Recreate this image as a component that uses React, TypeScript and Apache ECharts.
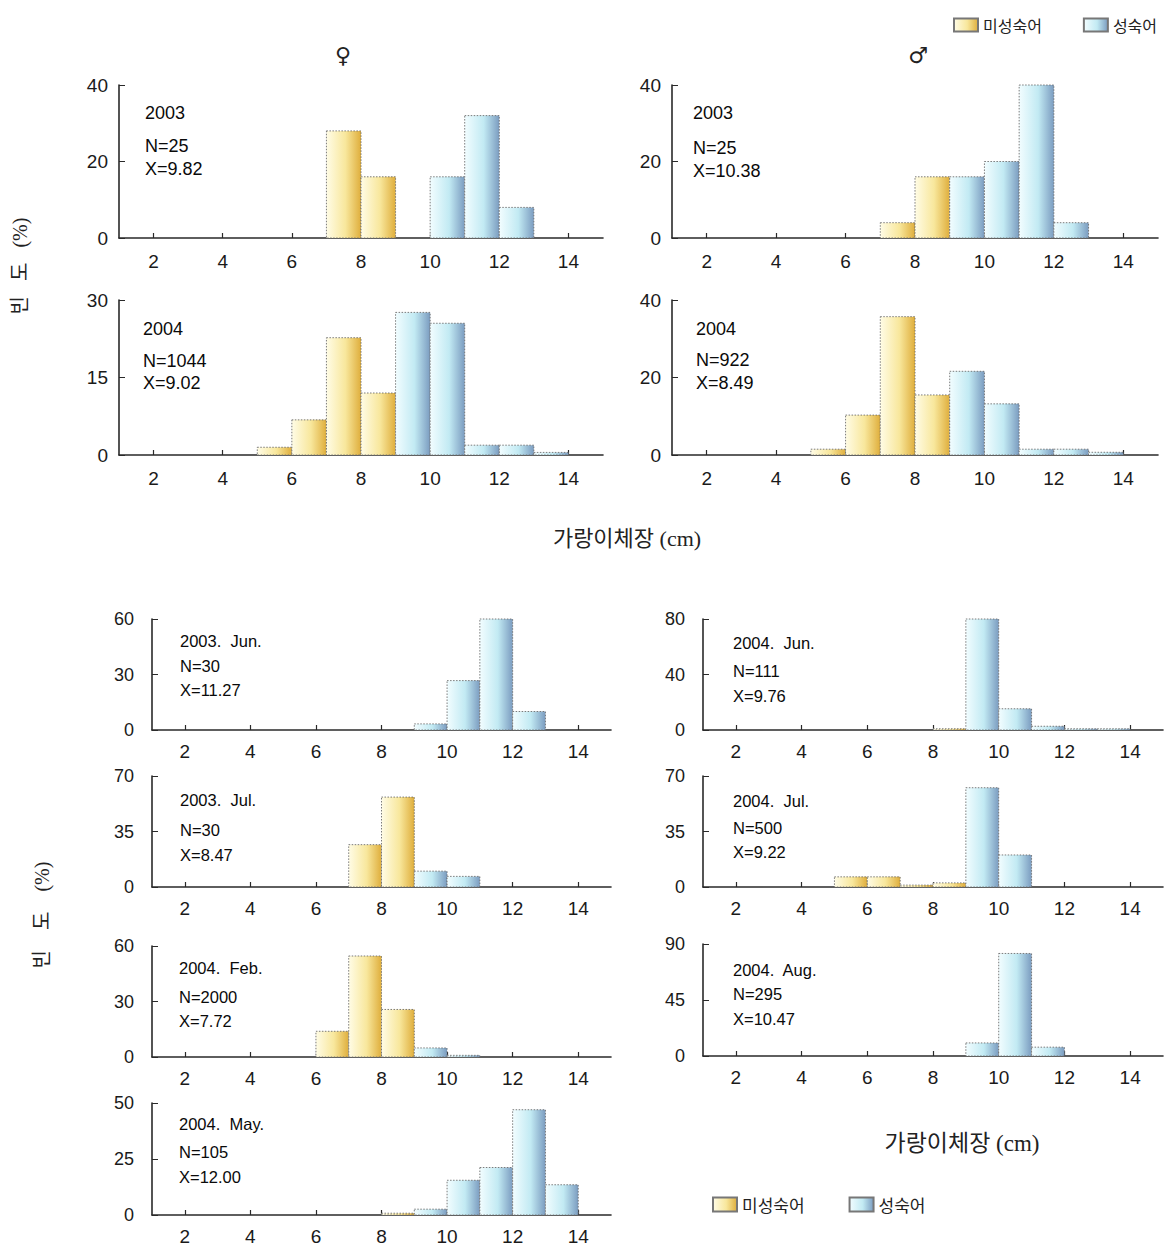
import React, { useEffect, useRef } from "react";
import * as echarts from "echarts";

// ---------- data ----------
// bins: [k, k+1) cm, k = 1..14
const BIN_START = [1, 2, 3, 4, 5, 6, 7, 8, 9, 10, 11, 12, 13, 14];
const X_TICKS = [2, 4, 6, 8, 10, 12, 14];
const SERIES_NAMES = ["미성숙어", "성숙어"];

const F2003_IMM = [0, 0, 0, 0, 0, 0, 28, 16, 0, 0, 0, 0, 0, 0];
const F2003_MAT = [0, 0, 0, 0, 0, 0, 0, 0, 0, 16, 32, 8, 0, 0];
const M2003_IMM = [0, 0, 0, 0, 0, 0, 4, 16, 0, 0, 0, 0, 0, 0];
const M2003_MAT = [0, 0, 0, 0, 0, 0, 0, 0, 16, 20, 40, 4, 0, 0];
const F2004_IMM = [0, 0, 0, 0, 1.5, 6.8, 22.7, 12.0, 0, 0, 0, 0, 0, 0];
const F2004_MAT = [0, 0, 0, 0, 0, 0, 0, 0, 27.6, 25.5, 1.9, 1.9, 0.5, 0];
const M2004_IMM = [0, 0, 0, 0, 1.5, 10.3, 35.7, 15.5, 0, 0, 0, 0, 0, 0];
const M2004_MAT = [0, 0, 0, 0, 0, 0, 0, 0, 21.6, 13.2, 1.5, 1.5, 0.7, 0];
const JUN2003_IMM = [0, 0, 0, 0, 0, 0, 0, 0, 0, 0, 0, 0, 0, 0];
const JUN2003_MAT = [0, 0, 0, 0, 0, 0, 0, 0, 3.3, 26.7, 60, 10, 0, 0];
const JUL2003_IMM = [0, 0, 0, 0, 0, 0, 26.7, 56.7, 0, 0, 0, 0, 0, 0];
const JUL2003_MAT = [0, 0, 0, 0, 0, 0, 0, 0, 10, 6.7, 0, 0, 0, 0];
const FEB2004_IMM = [0, 0, 0, 0, 0, 13.9, 54.6, 25.7, 0, 0, 0, 0, 0, 0];
const FEB2004_MAT = [0, 0, 0, 0, 0, 0, 0, 0, 4.9, 0.9, 0, 0, 0, 0];
const MAY2004_IMM = [0, 0, 0, 0, 0, 0, 0, 0.8, 0, 0, 0, 0, 0, 0];
const MAY2004_MAT = [0, 0, 0, 0, 0, 0, 0, 0, 2.6, 15.5, 21.2, 47, 13.5, 0];
const JUN2004_IMM = [0, 0, 0, 0, 0, 0, 0, 0.9, 0, 0, 0, 0, 0, 0];
const JUN2004_MAT = [0, 0, 0, 0, 0, 0, 0, 0, 80, 15.3, 2.7, 0.9, 0.9, 0];
const JUL2004_IMM = [0, 0, 0, 0, 6.4, 6.4, 1.2, 2.6, 0, 0, 0, 0, 0, 0];
const JUL2004_MAT = [0, 0, 0, 0, 0, 0, 0, 0, 62.6, 20.2, 0, 0, 0, 0];
const AUG2004_IMM = [0, 0, 0, 0, 0, 0, 0, 0, 0, 0, 0, 0, 0, 0];
const AUG2004_MAT = [0, 0, 0, 0, 0, 0, 0, 0, 10.5, 82.4, 7.1, 0, 0, 0];

const Y_MAX = [40, 40, 30, 40, 60, 70, 60, 50, 80, 70, 90];

const TXT_F2003 = ["2003", "N=25", "X=9.82"];
const TXT_M2003 = ["2003", "N=25", "X=10.38"];
const TXT_F2004 = ["2004", "N=1044", "X=9.02"];
const TXT_M2004 = ["2004", "N=922", "X=8.49"];
const TXT_JUN2003 = ["2003.  Jun.", "N=30", "X=11.27"];
const TXT_JUL2003 = ["2003.  Jul.", "N=30", "X=8.47"];
const TXT_FEB2004 = ["2004.  Feb.", "N=2000", "X=7.72"];
const TXT_MAY2004 = ["2004.  May.", "N=105", "X=12.00"];
const TXT_JUN2004 = ["2004.  Jun.", "N=111", "X=9.76"];
const TXT_JUL2004 = ["2004.  Jul.", "N=500", "X=9.22"];
const TXT_AUG2004 = ["2004.  Aug.", "N=295", "X=10.47"];

const PANEL_DATA = [
  [F2003_IMM, F2003_MAT, TXT_F2003],
  [M2003_IMM, M2003_MAT, TXT_M2003],
  [F2004_IMM, F2004_MAT, TXT_F2004],
  [M2004_IMM, M2004_MAT, TXT_M2004],
  [JUN2003_IMM, JUN2003_MAT, TXT_JUN2003],
  [JUL2003_IMM, JUL2003_MAT, TXT_JUL2003],
  [FEB2004_IMM, FEB2004_MAT, TXT_FEB2004],
  [MAY2004_IMM, MAY2004_MAT, TXT_MAY2004],
  [JUN2004_IMM, JUN2004_MAT, TXT_JUN2004],
  [JUL2004_IMM, JUL2004_MAT, TXT_JUL2004],
  [AUG2004_IMM, AUG2004_MAT, TXT_AUG2004],
];

// ---------- layout ----------
const LAYOUT = [
  { left: 119, top: 85, width: 484, height: 153, tx: 145, ty: [113, 146, 169], fs: 18, ym: 11, xm: 14, yfs: 19 },
  { left: 672, top: 85, width: 486, height: 153, tx: 693, ty: [113, 148, 171], fs: 18, ym: 11, xm: 14, yfs: 19 },
  { left: 119, top: 300, width: 484, height: 155, tx: 143, ty: [329, 361, 383], fs: 18, ym: 11, xm: 14, yfs: 19 },
  { left: 672, top: 300, width: 486, height: 155, tx: 696, ty: [329, 360, 383], fs: 18, ym: 11, xm: 14, yfs: 19 },
  { left: 152, top: 619, width: 459, height: 111, tx: 180, ty: [641, 666, 690], fs: 16.5, ym: 18, xm: 12, yfs: 18 },
  { left: 152, top: 776, width: 459, height: 111, tx: 180, ty: [800, 830, 855], fs: 16.5, ym: 18, xm: 12, yfs: 18 },
  { left: 152, top: 946, width: 459, height: 111, tx: 179, ty: [968, 997, 1021], fs: 16.5, ym: 18, xm: 12, yfs: 18 },
  { left: 152, top: 1103, width: 459, height: 112, tx: 179, ty: [1124, 1152, 1177], fs: 16.5, ym: 18, xm: 12, yfs: 18 },
  { left: 703, top: 619, width: 460, height: 111, tx: 733, ty: [643, 671, 696], fs: 16.5, ym: 18, xm: 12, yfs: 18 },
  { left: 703, top: 776, width: 460, height: 111, tx: 733, ty: [801, 828, 852], fs: 16.5, ym: 18, xm: 12, yfs: 18 },
  { left: 703, top: 944, width: 460, height: 112, tx: 733, ty: [970, 994, 1019], fs: 16.5, ym: 18, xm: 12, yfs: 18 },
];

const FONT_NUM = '"Liberation Sans", Arial, sans-serif';
const FONT_KR = '"Liberation Serif", "Noto Sans CJK KR", serif';
const AXIS_COLOR = "#2a2a2a";

const yellowGrad = () =>
  new echarts.graphic.LinearGradient(0, 0, 1, 0, [
    { offset: 0, color: "#fffce6" },
    { offset: 0.55, color: "#f8e79c" },
    { offset: 1, color: "#dfae3c" },
  ]);
const blueGrad = () =>
  new echarts.graphic.LinearGradient(0, 0, 1, 0, [
    { offset: 0, color: "#f2fdff" },
    { offset: 0.55, color: "#c2eaf3" },
    { offset: 1, color: "#7b9cc0" },
  ]);

function toPairs(vals: number[]) {
  const out: number[][] = [];
  vals.forEach((v, i) => {
    if (v > 0) out.push([BIN_START[i], v]);
  });
  return out;
}

export default function App() {
  const ref = useRef<HTMLDivElement>(null);

  useEffect(() => {
    if (!ref.current) return;
    const chart = echarts.init(ref.current, undefined, { renderer: "svg" });

    const grids: any[] = [];
    const xAxes: any[] = [];
    const yAxes: any[] = [];
    const series: any[] = [];
    const graphics: any[] = [];

    LAYOUT.forEach((L, i) => {
      grids.push({ left: L.left, top: L.top, width: L.width, height: L.height, containLabel: false });
      xAxes.push({
        gridIndex: i,
        type: "value",
        min: 1,
        max: 15,
        axisLine: { show: true, onZero: false, lineStyle: { color: AXIS_COLOR, width: 1.6 } },
        axisTick: { show: true, inside: true, length: 5, customValues: X_TICKS, lineStyle: { color: AXIS_COLOR, width: 1.2 } },
        axisLabel: { customValues: X_TICKS, fontSize: 19, color: "#1a1a1a", fontFamily: FONT_NUM, margin: L.xm },
        splitLine: { show: false },
      });
      yAxes.push({
        gridIndex: i,
        type: "value",
        min: 0,
        max: Y_MAX[i],
        interval: Y_MAX[i] / 2,
        axisLine: { show: true, lineStyle: { color: AXIS_COLOR, width: 1.6 } },
        axisTick: { show: true, inside: true, length: 6, lineStyle: { color: AXIS_COLOR } },
        axisLabel: { fontSize: L.yfs, color: "#1a1a1a", fontFamily: FONT_NUM, margin: L.ym },
        splitLine: { show: false },
      });
      const [imm, mat, txt] = PANEL_DATA[i] as [number[], number[], string[]];
      [imm, mat].forEach((vals, k) => {
        const grad = k === 0 ? yellowGrad : blueGrad;
        series.push({
          type: "custom",
          name: SERIES_NAMES[k],
          xAxisIndex: i,
          yAxisIndex: i,
          itemStyle: { color: grad(), borderColor: "#777", borderWidth: 1 },
          encode: { x: 0, y: 1 },
          data: toPairs(vals),
          renderItem: (params: any, api: any) => {
            const x0 = api.value(0);
            const v = api.value(1);
            const p0 = api.coord([x0, 0]);
            const p1 = api.coord([x0 + 1, v]);
            return {
              type: "rect",
              shape: { x: p0[0], y: p1[1], width: p1[0] - p0[0], height: p0[1] - p1[1] },
              style: { fill: grad(), stroke: "#6d6d6d", lineWidth: 0.9, lineDash: [1.5, 1.5] },
            };
          },
        });
      });
      txt.forEach((t, j) => {
        graphics.push({
          type: "text",
          x: L.tx,
          y: L.ty[j],
          silent: true,
          style: {
            text: t,
            fill: "#0a0a0a",
            fontSize: L.fs,
            fontFamily: FONT_NUM,
            align: "left",
            verticalAlign: "middle",
          },
        });
      });
    });

    // headings and axis titles
    const addText = (text: string, x: number, y: number, size: number, font: string, rotation = 0) =>
      graphics.push({
        type: "text",
        x,
        y,
        rotation,
        silent: true,
        style: { text, fill: "#222", fontSize: size, fontFamily: font, align: "center", verticalAlign: "middle" },
      });
    addText("♀", 343, 55, 22, '"DejaVu Sans", sans-serif');
    addText("♂", 918, 55, 22, '"DejaVu Sans", sans-serif');
    addText("가랑이체장 (cm)", 627, 538, 22, FONT_KR);
    addText("가랑이체장 (cm)", 962, 1143, 23, FONT_KR);
    addText("빈   도   (%)", 20, 266, 20, FONT_KR, Math.PI / 2);
    addText("빈    도    (%)", 42, 915, 20, FONT_KR, Math.PI / 2);

    chart.setOption({
      animation: false,
      backgroundColor: "#ffffff",
      legend: [
        {
          data: SERIES_NAMES,
          left: 948,
          top: 12,
          icon: "rect",
          itemWidth: 24,
          itemHeight: 13,
          itemGap: 41,
          selectedMode: false,
          textStyle: { fontSize: 16, color: "#222", fontFamily: '"Noto Sans CJK KR", sans-serif' },
        },
        {
          data: SERIES_NAMES,
          left: 707,
          top: 1191,
          icon: "rect",
          itemWidth: 24,
          itemHeight: 14,
          itemGap: 44,
          selectedMode: false,
          textStyle: { fontSize: 17, color: "#222", fontFamily: '"Noto Sans CJK KR", sans-serif' },
        },
      ],
      grid: grids,
      xAxis: xAxes,
      yAxis: yAxes,
      series,
      graphic: graphics,
    });

    return () => chart.dispose();
  }, []);

  return (
    <div
      ref={ref}
      style={{ position: "absolute", left: 0, top: 0, width: 1167, height: 1247, background: "#fff" }}
    />
  );
}
